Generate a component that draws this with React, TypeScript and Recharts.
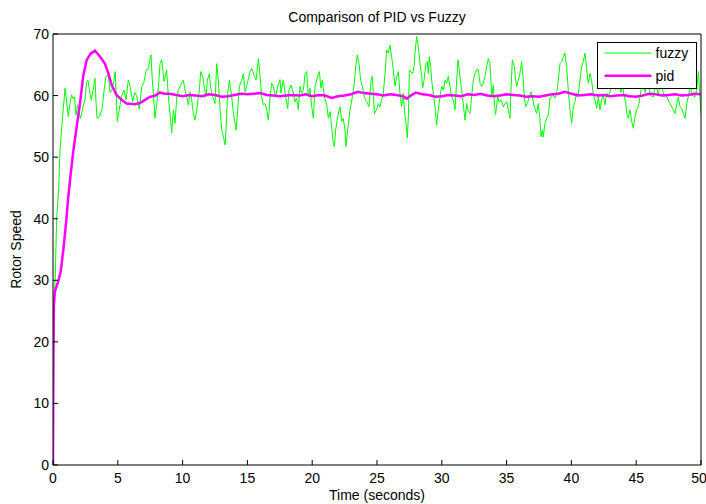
import React from 'react';
import { LineChart, Line, XAxis, YAxis, Legend, Label } from 'recharts';

const xTicks = [0, 5, 10, 15, 20, 25, 30, 35, 40, 45, 50];
const yTicks = [0, 10, 20, 30, 40, 50, 60, 70];

// [time (s), rotor speed]
const fuzzyPoints: [number, number][] = [
  [0, 0], [0.05, 14], [0.1, 27], [0.18, 31], [0.28, 40], [0.38, 43], [0.46, 46], [0.52, 50], [0.6, 53], [0.7, 55.5],
  [0.8, 58], [0.93, 61.2], [1.05, 59], [1.18, 56.6], [1.3, 58.5], [1.44, 60.1], [1.55, 59.5], [1.66, 59.8], [1.77, 56.8], [1.9, 58.5],
  [2.0, 57.5], [2.1, 56.3], [2.2, 57], [2.35, 58.5], [2.47, 59.3], [2.6, 62.3], [2.7, 62.5], [2.8, 61], [2.95, 59.3], [3.1, 61],
  [3.24, 62.8], [3.32, 59], [3.4, 56.3], [3.6, 56.6], [3.8, 58], [3.95, 61], [4.09, 63.1], [4.27, 63.3], [4.4, 60.5], [4.55, 61],
  [4.7, 62.5], [4.8, 63.9], [4.96, 55.8], [5.11, 57.7], [5.3, 60], [5.48, 60.9], [5.63, 59.3], [5.81, 62.5], [5.95, 61.5], [6.15, 59],
  [6.3, 60.5], [6.45, 60], [6.66, 57.8], [6.85, 61.5], [7.02, 62.2], [7.17, 63.9], [7.36, 64.5], [7.56, 66.6], [7.65, 63], [7.75, 60],
  [7.87, 56.3], [8.0, 58.5], [8.13, 61.4], [8.26, 65.2], [8.39, 65.8], [8.57, 62.3], [8.77, 64.2], [8.9, 59.8], [9.03, 57.1], [9.16, 53.9],
  [9.29, 57.7], [9.42, 55.5], [9.55, 59.8], [9.67, 60.9], [9.85, 61.7], [10.06, 62.5], [10.19, 60.9], [10.32, 59.8], [10.45, 58.5], [10.57, 60.6],
  [10.7, 59.3], [10.83, 57.1], [10.96, 56], [11.09, 57.7], [11.29, 60.9], [11.4, 63.9], [11.55, 63.1], [11.66, 61.5], [11.81, 59.8], [11.91, 62.5],
  [12.07, 63.6], [12.17, 61.2], [12.32, 59.8], [12.5, 58.7], [12.63, 65.2], [12.76, 62.5], [12.89, 57.7], [13.02, 54.4], [13.15, 53.3], [13.28, 52],
  [13.35, 54.4], [13.46, 59.8], [13.61, 62.5], [13.79, 59.8], [13.92, 57.1], [14.12, 54.4], [14.23, 57.1], [14.38, 61.5], [14.56, 62.5], [14.69, 63.6],
  [14.82, 60.6], [15.0, 62], [15.2, 63.9], [15.33, 64.4], [15.51, 63.3], [15.67, 62.5], [15.85, 66], [15.98, 63.1], [16.1, 59.8], [16.23, 58.5],
  [16.36, 58.7], [16.49, 57.7], [16.62, 56], [16.75, 59.8], [16.87, 62], [17.0, 61.5], [17.18, 59.8], [17.34, 61.5], [17.52, 62.6], [17.59, 60.4],
  [17.77, 62.5], [17.95, 59.8], [18.11, 57.9], [18.21, 60.9], [18.37, 61.7], [18.55, 60.4], [18.67, 59], [18.8, 59.6], [18.93, 57.7], [19.06, 61.5],
  [19.19, 60.4], [19.32, 60.9], [19.45, 63.6], [19.57, 63.9], [19.7, 59.8], [19.83, 61.2], [19.96, 58.2], [20.09, 56.3], [20.22, 61.5], [20.42, 63.1],
  [20.55, 63.9], [20.68, 61.2], [20.78, 62.5], [20.94, 59.8], [21.12, 58.5], [21.25, 56.3], [21.38, 57.4], [21.5, 54.9], [21.63, 52.2], [21.71, 51.7],
  [21.81, 54.4], [21.97, 56.6], [22.15, 58.2], [22.28, 55.8], [22.4, 56.3], [22.53, 54.4], [22.61, 51.7], [22.74, 54.4], [22.92, 57.7], [23.1, 59.8],
  [23.25, 62], [23.36, 64.7], [23.48, 66.6], [23.61, 65.2], [23.74, 62.5], [23.87, 61.5], [24.02, 59.8], [24.2, 59], [24.38, 58.2], [24.54, 62.5],
  [24.64, 63.1], [24.8, 57.1], [24.97, 57.7], [25.1, 58.7], [25.23, 58.2], [25.36, 59.3], [25.49, 60.4], [25.62, 63.6], [25.75, 67.4], [25.87, 66.9],
  [26.0, 68.2], [26.13, 66.3], [26.26, 64.2], [26.39, 61.5], [26.52, 63.1], [26.65, 63.9], [26.77, 60.4], [26.9, 58.2], [27.03, 60.4], [27.16, 56.6],
  [27.24, 55.5], [27.34, 53.1], [27.42, 56.6], [27.5, 64.2], [27.6, 63.9], [27.75, 63.6], [27.86, 64.7], [27.93, 66.9], [28.06, 69.6], [28.19, 67.9],
  [28.32, 65.2], [28.45, 63.1], [28.52, 61.2], [28.63, 62.5], [28.78, 65.2], [28.88, 65.5], [28.96, 63.6], [29.04, 66.3], [29.14, 64.7], [29.22, 62.5],
  [29.35, 60.1], [29.48, 58.2], [29.6, 55.2], [29.73, 57.7], [29.86, 59.8], [29.99, 61.5], [30.12, 60.9], [30.25, 62.5], [30.38, 62], [30.5, 63.1],
  [30.63, 61.5], [30.76, 59.8], [30.89, 59.3], [31.02, 57.7], [31.15, 62.5], [31.25, 65.8], [31.35, 64.2], [31.46, 62], [31.61, 59.6], [31.79, 56],
  [31.92, 58.7], [32.05, 57.4], [32.18, 57.1], [32.3, 59.8], [32.43, 62.5], [32.56, 63.6], [32.69, 64.2], [32.82, 64.2], [32.95, 62], [33.07, 61.5],
  [33.2, 62], [33.33, 63.1], [33.46, 64.7], [33.59, 66], [33.72, 65.2], [33.85, 59.8], [33.97, 61.7], [34.1, 57.7], [34.15, 56.9], [34.31, 59.8],
  [34.41, 59], [34.57, 59.3], [34.75, 58.2], [34.87, 58.7], [35.0, 59], [35.13, 57.7], [35.26, 56.3], [35.34, 60.9], [35.44, 65.8], [35.6, 64.7],
  [35.7, 62.5], [35.78, 61.5], [35.9, 62.5], [36.03, 63.6], [36.16, 65.5], [36.29, 62.5], [36.37, 59.8], [36.47, 58.2], [36.62, 58.7], [36.73, 59.8],
  [36.88, 60.6], [36.98, 59.8], [37.14, 58.2], [37.32, 57.1], [37.45, 58.7], [37.58, 56], [37.65, 53.3], [37.76, 54.4], [37.83, 53.3], [37.96, 55.5],
  [38.09, 56.3], [38.22, 56.9], [38.35, 59.6], [38.48, 59.8], [38.6, 60.1], [38.73, 59.6], [38.86, 60.4], [38.99, 62.5], [39.12, 65.2], [39.25, 65.5],
  [39.38, 66.3], [39.5, 66.9], [39.63, 64.7], [39.76, 60.9], [39.89, 57.7], [40.02, 55.5], [40.15, 58.2], [40.28, 59], [40.4, 60.4], [40.53, 60.1],
  [40.66, 62.5], [40.79, 64.7], [40.92, 65.5], [41.05, 66.9], [41.18, 64.2], [41.31, 62], [41.44, 63.6], [41.56, 62.5], [41.69, 60.1], [41.82, 59.3],
  [41.95, 57.9], [42.08, 59.8], [42.21, 57.7], [42.34, 59.3], [42.46, 60.1], [42.59, 58.5], [42.72, 60.4], [42.85, 59.8], [42.98, 60.6], [43.2, 63],
  [43.4, 61], [43.6, 64], [43.8, 60.5], [43.95, 61.5], [44.08, 59.8], [44.19, 59], [44.27, 57.1], [44.39, 56.3], [44.52, 57.7], [44.65, 55.8],
  [44.78, 54.7], [44.91, 56.6], [45.04, 57.7], [45.17, 58.2], [45.29, 59.8], [45.5, 62.5], [45.7, 60.5], [45.9, 63], [46.1, 60], [46.32, 59.8],
  [46.5, 62], [46.7, 60.1], [46.9, 62.5], [47.1, 60.3], [47.35, 59.8], [47.61, 58.7], [47.87, 57.7], [47.99, 57.1], [48.25, 59.8], [48.38, 58.2],
  [48.51, 57.9], [48.77, 56.3], [48.9, 58.7], [49.02, 59.8], [49.2, 62], [49.28, 60.1], [49.54, 59.8], [49.67, 60.9], [49.8, 63.9], [49.92, 59.8],
  [50, 57.1],
];

const pidPoints: [number, number][] = [
  [0, 0], [0.03, 18], [0.07, 26], [0.15, 28.2], [0.28, 29], [0.45, 30.2], [0.6, 31.5], [0.8, 35], [0.98, 38.7], [1.18, 43.6],
  [1.35, 47], [1.57, 51], [1.83, 55], [2.08, 58.7], [2.34, 63.3], [2.6, 65.8], [2.9, 66.8], [3.24, 67.3], [3.63, 66.3], [4.0, 65.2],
  [4.27, 63.6], [4.53, 61.7], [4.9, 60.1], [5.3, 59.3], [5.68, 58.7], [6.3, 58.6], [6.7, 58.8], [7.1, 59.3], [7.48, 59.8], [7.9, 60.0],
  [8.25, 60.5], [8.6, 60.3], [9, 60.3], [9.5, 60.1], [10, 59.9], [10.5, 60.1], [11, 60.0], [11.5, 59.9], [12, 60.2], [12.5, 60.1],
  [13, 59.8], [13.5, 59.9], [14, 60.1], [14.5, 60.3], [15, 60.2], [15.5, 60.3], [16, 60.4], [16.5, 60.1], [17, 60.0], [17.5, 59.9],
  [18, 60.0], [18.5, 60.1], [19, 60.0], [19.5, 60.2], [20, 59.9], [20.5, 60.1], [21, 60.0], [21.5, 59.6], [22, 59.9], [22.5, 60.0],
  [23, 60.2], [23.5, 60.6], [24, 60.4], [24.5, 60.3], [25, 60.2], [25.5, 60.0], [26, 60.2], [26.5, 60.1], [27, 59.9], [27.3, 59.5],
  [27.6, 60.0], [28, 60.5], [28.5, 60.2], [29, 60.1], [29.5, 59.8], [30, 59.9], [30.5, 60.1], [31, 60.0], [31.5, 59.9], [32, 60.2],
  [32.5, 60.1], [33, 60.3], [33.5, 60.0], [34, 59.9], [34.5, 60.0], [35, 60.2], [35.5, 60.1], [36, 60.0], [36.5, 59.8], [37, 59.9],
  [37.5, 59.8], [38, 60.0], [38.5, 60.2], [39, 60.3], [39.5, 60.6], [40, 60.3], [40.5, 60.0], [41, 60.1], [41.5, 60.2], [42, 60.0],
  [42.5, 60.1], [43, 59.9], [43.5, 60.0], [44, 60.1], [44.5, 59.9], [45, 59.8], [45.5, 60.0], [46, 60.3], [46.5, 60.2], [47, 60.0],
  [47.5, 60.1], [48, 60.2], [48.5, 60.0], [49, 60.1], [49.5, 60.3], [50, 60.2],
];

const fuzzyData = fuzzyPoints.map(([t, v]) => ({ t, v }));
const pidData = pidPoints.map(([t, v]) => ({ t, v }));

const FONT = '"Liberation Sans", Arial, Helvetica, sans-serif';
const lineWidths: Record<string, number> = { fuzzy: 1, pid: 2.5 };

const LegendBox = (props: any) => {
  const items = props.payload || [];
  return (
    <div style={{ width: 100, height: 47, boxSizing: 'border-box', border: '1.5px solid #000', background: '#fff' }}>
      <svg width={97} height={44} style={{ display: 'block' }}>
        {items.map((item: any, i: number) => {
          const y = 10 + i * 22.7;
          return (
            <g key={item.value}>
              <line x1={6.5} x2={53.5} y1={y} y2={y} stroke={item.color} strokeWidth={lineWidths[item.value] || 1} />
              <text x={57.5} y={y + 5} fontSize={14} fontFamily={FONT} fill="#000">{item.value}</text>
            </g>
          );
        })}
      </svg>
    </div>
  );
};

export default function App() {
  return (
    <div style={{ position: 'absolute', left: 0, top: 0, width: 706, height: 504, background: '#fff' }}>
      <LineChart width={706} height={504} margin={{ top: 24, right: 0, bottom: 9, left: 13 }}>
        <XAxis
          type="number"
          dataKey="t"
          domain={[0, 50]}
          ticks={xTicks}
          allowDataOverflow
          height={30}
          stroke="#000"
          tickSize={-5}
          tickMargin={13}
          tick={{ fill: '#000', fontSize: 14, fontFamily: FONT }}
        >
          <Label
            content={(p: any) => {
              const vb = p.viewBox || { x: 53, y: 465, width: 648 };
              return (
                <text x={vb.x + vb.width / 2} y={vb.y + 35} textAnchor="middle" fontSize={14} fontFamily={FONT} fill="#000">
                  Time (seconds)
                </text>
              );
            }}
          />
        </XAxis>
        <XAxis
          xAxisId="top"
          orientation="top"
          type="number"
          domain={[0, 50]}
          ticks={xTicks}
          height={10}
          stroke="#000"
          tickSize={-5}
          tick={false}
        >
          <Label
            content={(p: any) => {
              const vb = p.viewBox || { x: 53, y: 24, width: 648 };
              return (
                <text x={vb.x + vb.width / 2} y={22} textAnchor="middle" fontSize={14} fontFamily={FONT} fill="#000">
                  Comparison of PID vs Fuzzy
                </text>
              );
            }}
          />
        </XAxis>
        <YAxis
          type="number"
          domain={[0, 70]}
          ticks={yTicks}
          width={40}
          stroke="#000"
          tickSize={-5}
          tickMargin={9}
          tick={{ fill: '#000', fontSize: 14, fontFamily: FONT }}
        >
          <Label
            content={(p: any) => {
              const vb = p.viewBox || { x: 13, y: 34, height: 431 };
              const cy = vb.y + vb.height / 2;
              return (
                <text x={21} y={cy} transform={`rotate(-90 21 ${cy})`} textAnchor="middle" fontSize={14} fontFamily={FONT} fill="#000">
                  Rotor Speed
                </text>
              );
            }}
          />
        </YAxis>
        <YAxis
          yAxisId="right"
          orientation="right"
          type="number"
          domain={[0, 70]}
          ticks={yTicks}
          width={5}
          stroke="#000"
          tickSize={-5}
          tick={false}
        />
        <Legend
          layout="horizontal"
          verticalAlign="middle"
          align="center"
          content={LegendBox}
          wrapperStyle={{ left: 597, top: 42, right: 'auto', bottom: 'auto', width: 100, height: 47 }}
        />
        <Line
          data={fuzzyData}
          dataKey="v"
          name="fuzzy"
          type="linear"
          stroke="#00ff00"
          strokeWidth={1}
          dot={false}
          activeDot={false}
          isAnimationActive={false}
        />
        <Line
          data={pidData}
          dataKey="v"
          name="pid"
          type="linear"
          stroke="#ff00ff"
          strokeWidth={2.5}
          dot={false}
          activeDot={false}
          isAnimationActive={false}
        />
      </LineChart>
    </div>
  );
}
